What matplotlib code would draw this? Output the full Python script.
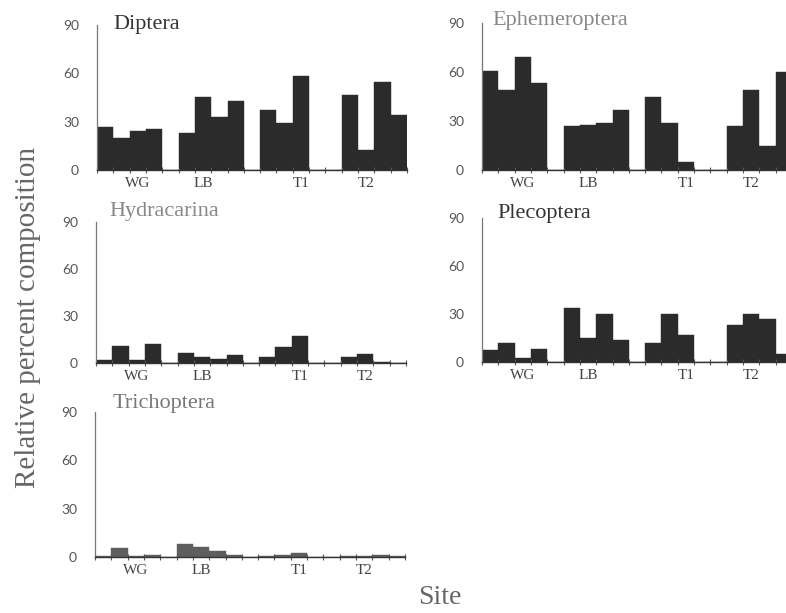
import matplotlib
matplotlib.use("Agg")
import matplotlib.pyplot as plt
import numpy as np

plt.rcParams['font.family'] = ['Liberation Serif', 'DejaVu Serif']

# 19 sample slots per panel: WG (4), gap, LB (4), gap, T1 (3), gap, gap, T2 (4)
sites = ['WG', 'LB', 'T1', 'T2']
site_slots = [2, 6, 12, 16]
y_ticks = [0, 30, 60, 90]

diptera = [26.9, 19.7, 24.2, 25.3, 0, 23.2, 45.5, 32.7, 42.6, 0,
           37.5, 29.4, 58.6, 0, 0, 46.4, 12.2, 54.5, 34.4]
ephemeroptera = [60.6, 48.7, 69.4, 53.4, 0, 26.7, 27.5, 28.7, 36.8, 0,
                 44.8, 28.7, 4.9, 0, 0, 26.9, 49.1, 15.0, 60.0]
hydracarina = [2.1, 10.7, 1.9, 11.9, 0, 6.6, 3.6, 2.6, 4.9, 0,
               3.6, 10.0, 17.0, 0, 0, 3.6, 6.0, 0.9, 0]
plecoptera = [7.7, 11.9, 2.5, 8.1, 0, 33.8, 15.0, 29.8, 14.0, 0,
              11.9, 29.8, 16.9, 0, 0, 23.1, 30.0, 27.1, 5.0]
trichoptera = [0.5, 5.8, 0.5, 1.0, 0, 7.9, 6.2, 3.7, 1.2, 0,
               0.5, 1.2, 2.3, 0, 0, 0.5, 0.5, 1.2, 0.5]

W, H = 786, 613


def px_rect(left, zero_y, top_y, width=310):
    return [left / W, (H - zero_y) / H, width / W, (zero_y - top_y) / H]


panels = [
    ('Diptera', diptera, px_rect(97, 170, 25), (0.052, 0.97), '#333333', '#2b2b2b'),
    ('Ephemeroptera', ephemeroptera, px_rect(482, 170, 23), (0.035, 0.985), '#888888', '#2b2b2b'),
    ('Hydracarina', hydracarina, px_rect(96, 363, 222), (0.042, 1.04), '#888888', '#2b2b2b'),
    ('Plecoptera', plecoptera, px_rect(482, 362, 218), (0.048, 1.0), '#333333', '#2b2b2b'),
    ('Trichoptera', trichoptera, px_rect(95, 557, 412), (0.058, 1.03), '#777777', '#5e5e5e'),
]

fig = plt.figure(figsize=(W / 100, H / 100), dpi=100)

for name, values, rect, tpos, tcolor, bcolor in panels:
    ax = fig.add_axes(rect)
    x = np.arange(len(values))
    ax.bar(x, values, width=1.0, color=bcolor, edgecolor=bcolor, linewidth=0.3)
    ax.set_xlim(-0.5, len(values) - 0.5)
    ax.set_ylim(0, 90)

    for side in ['top', 'right']:
        ax.spines[side].set_visible(False)
    ax.spines['left'].set_color('#777777')
    ax.spines['left'].set_linewidth(0.9)
    ax.spines['bottom'].set_color('#333333')
    ax.spines['bottom'].set_linewidth(1.0)

    ax.set_xticks(np.arange(len(values) + 1) - 0.5)
    ax.set_xticklabels([])
    ax.set_xticks(site_slots, sites, minor=True)
    ax.tick_params(axis='x', which='major', direction='inout', length=5,
                   width=0.8, color='#555555')
    ax.tick_params(axis='x', which='minor', length=0, pad=5,
                   labelsize=11, labelcolor='#444444')

    ax.set_yticks(y_ticks)
    ax.tick_params(axis='y', length=0, pad=13, labelsize=10, labelcolor='#555555')
    for lab in ax.get_yticklabels():
        lab.set_fontfamily(['Lato', 'DejaVu Sans'])

    ax.text(tpos[0], tpos[1], name, transform=ax.transAxes, fontsize=16,
            color=tcolor, ha='left', va='baseline')

fig.text(28 / W, 1 - 317 / H, 'Relative percent composition', rotation=90,
         fontsize=21, color='#666666', ha='center', va='center')
fig.text(440 / W, 1 - 597 / H, 'Site', fontsize=20, color='#666666',
         ha='center', va='center')

fig.savefig('out.png', dpi=100, facecolor='white')
